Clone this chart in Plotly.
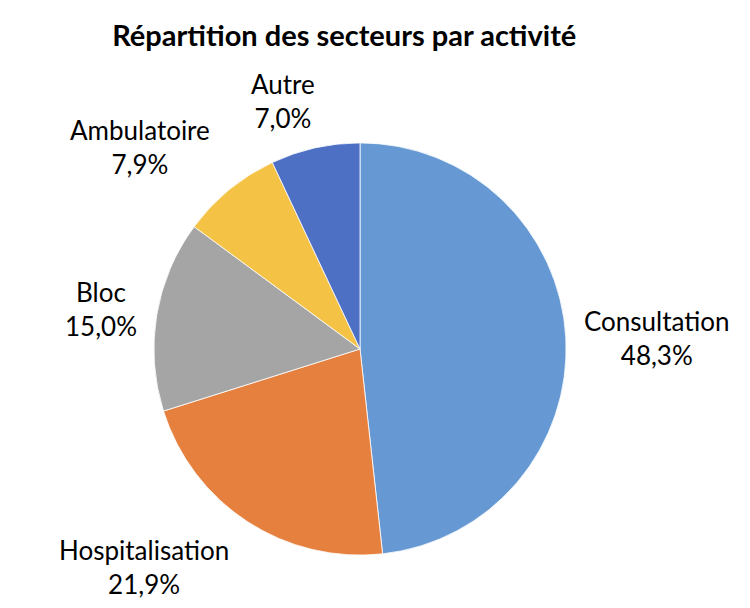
import plotly.graph_objects as go

categories = ["Consultation", "Hospitalisation", "Bloc", "Ambulatoire", "Autre"]
values = [48.3, 21.9, 15.0, 7.9, 7.0]
colors = ["#6699D4", "#E6803F", "#A5A5A5", "#F4C244", "#4E70C4"]

# label centre positions in pixels (styling)
label_px = [(657, 338), (144, 567), (101, 309), (140, 147), (283, 101)]

W, H = 750, 608
total = sum(values)

fig = go.Figure(go.Pie(
    labels=categories,
    values=values,
    sort=False,
    direction="clockwise",
    rotation=0,
    marker=dict(colors=colors, line=dict(color="#FFFFFF", width=0.8)),
    textinfo="none",
    hoverinfo="label+percent",
    showlegend=False,
    domain=dict(x=[0.204, 0.756], y=[0.087, 0.765]),
))

for cat, val, (px, py) in zip(categories, values, label_px):
    pct = f"{val / total * 100:.1f}".replace(".", ",") + "%"
    fig.add_annotation(
        x=px / W, y=1 - py / H, xref="paper", yref="paper",
        text=f"{cat}<br>{pct}", showarrow=False,
        xanchor="center", yanchor="middle", align="center",
        font=dict(family="Lato", size=26, color="#000000"),
    )

fig.update_layout(
    width=W, height=H,
    margin=dict(l=0, r=0, t=0, b=0),
    paper_bgcolor="#FFFFFF",
    separators=", ",
    title=dict(text="<b>Répartition des secteurs par activité</b>",
               x=0.459, xanchor="center", y=0.941, yanchor="middle",
               font=dict(family="Lato", size=29, color="#000000")),
)

fig.write_html("out.html")
